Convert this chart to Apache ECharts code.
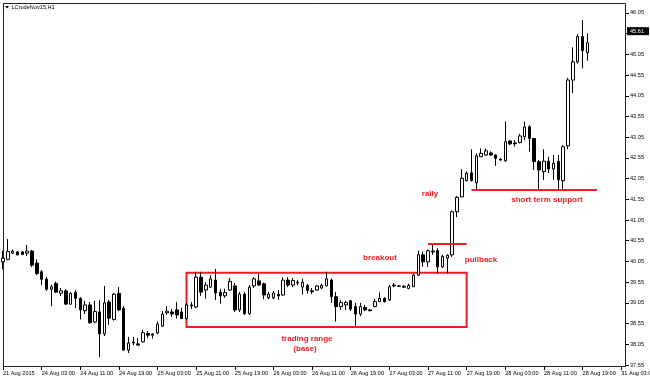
<!DOCTYPE html>
<html><head><meta charset="utf-8">
<script src="https://cdn.jsdelivr.net/npm/echarts@6/dist/echarts.min.js"></script>
<style>html,body{margin:0;padding:0;background:#fff}#c{width:650px;height:378px}</style>
</head><body><div id="c"></div>
<script>
const title = 'LCrudeNov15,H1';
const tickLabels = ['21 Aug 2015','24 Aug 03:00','24 Aug 11:00','24 Aug 19:00','25 Aug 03:00','25 Aug 11:00','25 Aug 19:00','26 Aug 03:00','26 Aug 11:00','26 Aug 19:00','27 Aug 03:00','27 Aug 11:00','27 Aug 19:00','28 Aug 03:00','28 Aug 11:00','28 Aug 19:00','31 Aug 03:00'];
const barsPerTick = 8;
const totalSlots = 130;
// [open, close, low, high]
const ohlc = [
[40.04,40.13,39.86,40.31],[40.10,40.29,40.08,40.59],[40.25,40.30,40.23,40.34],[40.28,40.21,40.19,40.30],
[40.28,40.22,40.21,40.30],[40.25,40.30,40.18,40.45],[40.30,39.96,39.92,40.33],[40.01,39.76,39.72,40.10],
[39.80,39.62,39.48,39.84],[39.62,39.38,39.34,39.68],[39.38,39.44,38.97,39.48],[39.52,39.31,39.29,39.56],
[39.28,39.34,39.22,39.41],[39.34,39.02,39.00,39.38],[39.02,39.28,39.00,39.31],[39.30,39.16,38.92,39.36],
[39.16,38.88,38.65,39.19],[38.86,39.00,38.78,39.10],[39.00,38.57,38.55,39.07],[38.59,38.84,38.56,39.10],
[38.83,38.30,37.74,39.12],[38.30,39.05,38.25,39.46],[39.07,38.68,38.52,39.12],[38.65,39.26,38.62,39.29],
[39.28,38.88,38.85,39.43],[38.92,37.91,37.89,38.97],[37.91,38.08,37.84,38.23],[38.08,38.10,38.03,38.23],
[38.06,38.03,38.01,38.20],[38.11,38.33,38.09,38.40],[38.31,38.27,38.20,38.37],[38.30,38.27,38.19,38.32],
[38.32,38.54,38.29,38.60],[38.49,38.78,38.47,38.85],[38.81,38.85,38.76,38.97],[38.83,38.78,38.71,38.90],
[38.88,38.76,38.67,39.07],[38.83,38.67,38.66,38.93],[38.67,39.00,38.64,39.05],[39.00,38.98,38.90,39.07],
[38.95,39.67,38.92,39.80],[39.67,39.31,39.22,39.80],[39.36,39.48,39.15,39.55],[39.43,39.63,39.41,39.72],
[39.60,39.29,39.12,39.87],[39.31,39.22,39.03,39.39],[39.22,39.30,39.17,39.39],[39.36,39.57,39.34,39.65],
[39.46,38.88,38.83,39.53],[38.88,39.26,38.83,39.31],[39.26,38.79,38.76,39.31],[38.79,39.43,38.76,39.48],
[39.46,39.63,39.41,39.67],[39.58,39.48,39.46,39.75],[39.51,39.24,39.14,39.54],[39.17,39.26,39.14,39.31],
[39.17,39.29,39.14,39.34],[39.26,39.22,39.12,39.36],[39.24,39.60,39.22,39.67],[39.60,39.48,39.43,39.67],
[39.48,39.59,39.43,39.65],[39.55,39.53,39.48,39.60],[39.43,39.55,39.25,39.63],[39.47,39.35,39.27,39.51],
[39.34,39.32,39.26,39.41],[39.36,39.46,39.34,39.48],[39.41,39.47,39.38,39.51],[39.46,39.63,39.46,39.80],
[39.60,39.20,39.05,39.64],[39.20,38.96,38.60,39.31],[38.96,39.06,38.88,39.12],[39.00,39.06,38.88,39.10],
[39.10,38.90,38.85,39.12],[38.96,38.78,38.49,39.05],[38.78,38.96,38.73,39.05],[38.94,38.88,38.85,39.00],
[38.88,38.86,38.85,38.90],[38.96,39.08,38.94,39.14],[39.08,39.16,39.07,39.30],[39.16,39.08,39.06,39.19],
[39.12,39.44,39.10,39.48],[39.48,39.46,39.43,39.53],[39.46,39.45,39.43,39.48],[39.45,39.43,39.41,39.47],
[39.40,39.47,39.38,39.51],[39.44,39.72,39.43,39.75],[39.72,40.21,39.70,40.31],[40.21,40.04,39.92,40.29],
[40.04,40.31,39.92,40.34],[40.30,40.28,40.21,40.45],[40.31,39.92,39.76,40.37],[39.92,40.17,39.89,40.21],
[40.13,40.20,39.76,40.22],[40.21,41.25,40.16,41.28],[41.25,41.60,41.12,41.63],[41.61,42.06,41.60,42.28],
[42.00,42.18,41.98,42.22],[42.19,42.00,41.98,42.76],[41.95,42.60,41.79,42.66],[42.58,42.66,42.57,42.78],
[42.62,42.72,42.60,42.78],[42.67,42.62,42.60,42.71],[42.62,42.54,42.36,42.64],[42.52,42.50,42.48,42.54],
[42.48,42.94,42.46,43.43],[42.96,42.89,42.86,42.98],[42.91,42.89,42.82,42.98],[42.92,43.08,42.90,43.13],
[43.06,43.30,42.98,43.43],[43.30,43.02,42.70,43.34],[43.02,42.46,42.26,43.03],[42.46,42.26,41.79,42.50],
[42.22,42.47,42.02,42.76],[42.47,42.28,42.18,42.58],[42.28,42.42,42.02,42.62],[42.47,42.02,41.79,42.62],
[42.00,42.82,41.79,42.86],[42.84,44.43,42.76,44.48],[44.43,44.87,44.11,45.22],[44.87,45.48,44.83,45.54],
[45.48,45.14,44.71,45.88],[45.09,45.33,44.90,45.56]
];
const currentPrice = 45.61;
const rangeBox = [[38, 39.78], [96, 38.47]];
const breakoutLine = [[88, 40.48], [96, 40.48]];
const supportLine = [[97, 41.78], [123, 41.78]];
const notes = [
  ['breakout', 380, 257.5], ['pullback', 481, 260], ['rally', 430, 193.5],
  ['short term support', 547, 200], ['trading range', 307, 338.5], ['(base)', 305, 349]
];
const RED = '#ee1c25';

const categories = Array.from({length: totalSlots}, (_, i) => 'b' + i);
const chart = echarts.init(document.getElementById('c'), null, {renderer: 'canvas'});
const FONT = 'Liberation Sans';
chart.setOption({
  animation: false,
  backgroundColor: '#fff',
  grid: {left: 3, right: 24, top: 3, bottom: 13, containLabel: false, outerBoundsMode: 'none'},
  xAxis: {
    type: 'category', data: categories, boundaryGap: false, offset: 2,
    axisLine: {show: false},
    axisTick: {show: true, interval: barsPerTick - 1, length: 3, lineStyle: {color: '#000'}},
    axisLabel: {interval: barsPerTick - 1, align: 'left', margin: 3, fontSize: 5.6, fontFamily: FONT, color: '#000',
      formatter: (v, i) => tickLabels[i / barsPerTick] || ''},
    splitLine: {show: false}
  },
  yAxis: {
    type: 'value', position: 'right', min: 37.55, max: 46.29, interval: 0.5, scale: true,
    axisLine: {show: false},
    axisTick: {show: true, length: 3, lineStyle: {color: '#000'}},
    axisLabel: {margin: 4, fontSize: 5.6, fontFamily: FONT, color: '#000', showMaxLabel: false,
      formatter: v => v.toFixed(2)},
    splitLine: {show: false}
  },
  series: [{
    type: 'candlestick', data: ohlc, barWidth: 3, clip: false,
    itemStyle: {color: '#fff', color0: '#000', borderColor: '#000', borderColor0: '#000', borderWidth: 1},
    markArea: {silent: true, itemStyle: {color: 'rgba(0,0,0,0)', borderColor: RED, borderWidth: 2},
      data: [[{xAxis: rangeBox[0][0], yAxis: rangeBox[0][1]}, {xAxis: rangeBox[1][0], yAxis: rangeBox[1][1]}]]},
    markLine: {silent: true, symbol: ['none', 'none'], animation: false,
      lineStyle: {color: RED, width: 2, type: 'solid'}, label: {show: false},
      data: [
        [{coord: breakoutLine[0]}, {coord: breakoutLine[1]}],
        [{coord: supportLine[0]}, {coord: supportLine[1]}]
      ]}
  }]
});
// current price box, placed through the y scale
const py = chart.convertToPixel({yAxisIndex: 0}, currentPrice);
const graphics = [
  {type: 'rect', silent: true, shape: {x: 3.5, y: 3.5, width: 622, height: 363},
    style: {fill: 'none', stroke: '#222', lineWidth: 1}},
  {type: 'polygon', silent: true, shape: {points: [[5, 6], [9, 6], [7, 8.5]]}, style: {fill: '#000'}},
  {type: 'text', silent: true, style: {text: title, x: 11.5, y: 7, textVerticalAlign: 'middle',
    fontSize: 5.6, fontFamily: FONT, fill: '#000'}},
  {type: 'rect', silent: true, z: 100, shape: {x: 627, y: py - 4, width: 22, height: 8}, style: {fill: '#000'}},
  {type: 'text', silent: true, z: 101, style: {text: currentPrice.toFixed(2), x: 630, y: py, textVerticalAlign: 'middle',
    fontSize: 5.6, fontFamily: FONT, fill: '#fff'}}
].concat(notes.map(n => ({type: 'text', silent: true, style: {text: n[0], x: n[1], y: n[2],
    textAlign: 'center', textVerticalAlign: 'middle', fontSize: 8, fontWeight: 'bold', fontFamily: FONT, fill: RED}})));
chart.setOption({graphic: graphics});
</script></body></html>
